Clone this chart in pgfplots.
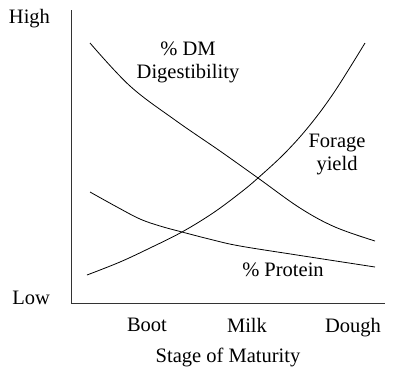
\documentclass[border=0pt]{standalone}
\usepackage{pgfplots}
\pgfplotsset{compat=1.18}
\usepackage{fontspec}
\setmainfont{Liberation Serif}
\begin{document}
\fontsize{20.5pt}{24pt}\selectfont
\begin{tikzpicture}
\begin{axis}[
  scale only axis, width=314pt, height=293pt,
  xmin=71, xmax=385, ymin=0, ymax=293,
  axis lines=left, axis line style={-, line width=0.8pt, black!80},
  clip=false,
  xtick={147,247,353}, xticklabels={Boot,Milk,Dough},
  ytick={284,5}, yticklabels={High,Low},
  major tick length=0pt,
  tick label style={font=\fontsize{20.5pt}{24pt}\selectfont},
  xticklabel style={yshift=-8pt},
  yticklabel style={xshift=-14pt},
  xlabel={Stage of Maturity},
  xlabel style={font=\fontsize{20.5pt}{24pt}\selectfont, yshift=2pt},
]
% % DM Digestibility
\addplot[black, line width=0.8pt, smooth, tension=0.6] coordinates {
 (90,260) (130,217) (175,183) (220,152) (258,125) (300,95) (335,76) (375,62)};
% Forage yield
\addplot[black, line width=0.8pt, smooth, tension=0.6] coordinates {
 (87,28) (120,41) (150,55) (182,71) (213,90) (240,110) (258,125) (285,150) (310,178) (335,212) (365,260)};
% % Protein
\addplot[black, line width=0.8pt, smooth, tension=0.6] coordinates {
 (90,111) (117,96) (140,84) (160,77) (182,71) (213,63) (240,57) (297,48) (375,36)};
\node[align=center, font=\fontsize{20.5pt}{23pt}\selectfont] at (axis cs:188,241) {\% DM\\Digestibility};
\node[align=center, font=\fontsize{20.5pt}{23pt}\selectfont] at (axis cs:337,149) {Forage\\yield};
\node[font=\fontsize{20.5pt}{23pt}\selectfont] at (axis cs:283,33) {\% Protein};
\path (axis cs:0,-73) rectangle (axis cs:394,303);
\end{axis}
\end{tikzpicture}
\end{document}
